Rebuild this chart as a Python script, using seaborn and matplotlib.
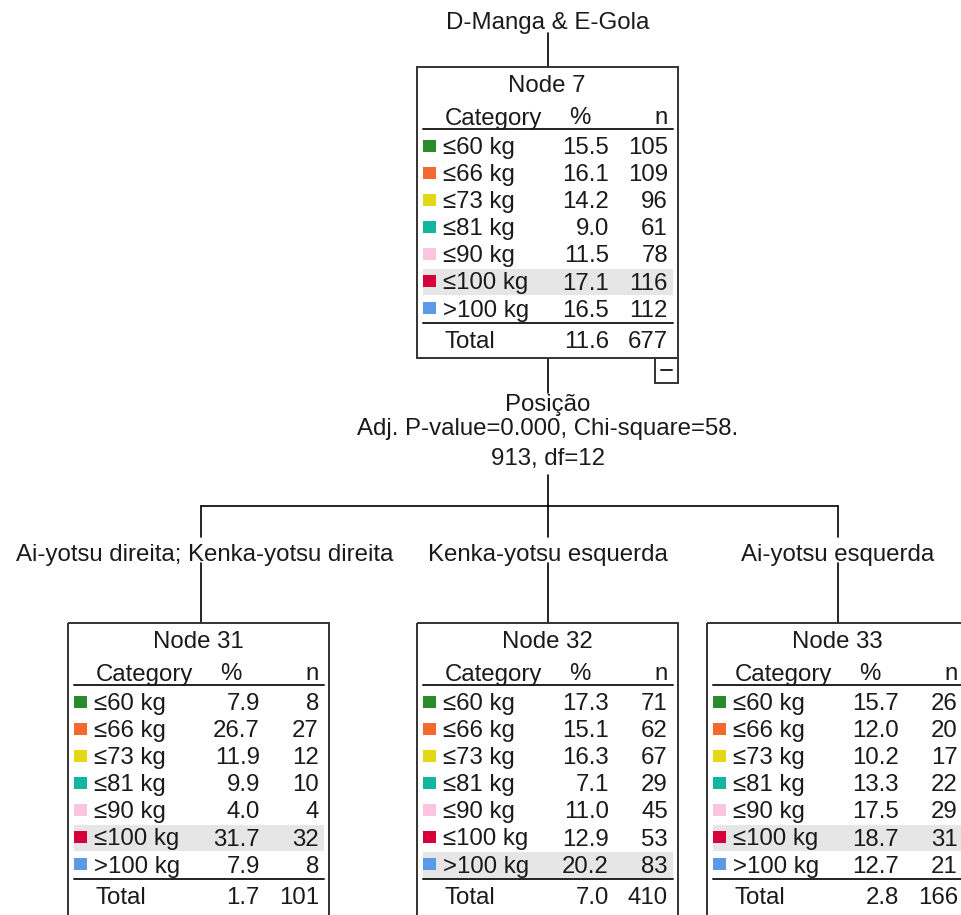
import matplotlib
matplotlib.use('Agg')
import matplotlib.pyplot as plt
import matplotlib.patches as mpatches
import seaborn as sns

# dados da árvore (CHAID)
categorias = ['≤60 kg', '≤66 kg', '≤73 kg', '≤81 kg', '≤90 kg', '≤100 kg', '>100 kg']
cores = ['#2b8a2b', '#f26a2e', '#e3d816', '#12b5a0', '#fcc4e0', '#d6003a', '#5a9ae6']

node7_pct = [15.5, 16.1, 14.2, 9.0, 11.5, 17.1, 16.5]
node7_n = [105, 109, 96, 61, 78, 116, 112]
node31_pct = [7.9, 26.7, 11.9, 9.9, 4.0, 31.7, 7.9]
node31_n = [8, 27, 12, 10, 4, 32, 8]
node32_pct = [17.3, 15.1, 16.3, 7.1, 11.0, 12.9, 20.2]
node32_n = [71, 62, 67, 29, 45, 53, 83]
node33_pct = [15.7, 12.0, 10.2, 13.3, 17.5, 18.7, 12.7]
node33_n = [26, 20, 17, 22, 29, 31, 21]

totais_pct = {7: 11.6, 31: 1.7, 32: 7.0, 33: 2.8}
totais_n = {7: 677, 31: 101, 32: 410, 33: 166}

raiz_label = 'D-Manga & E-Gola'
split_label = ['Posição', 'Adj. P-value=0.000, Chi-square=58.', '913, df=12']
ramos = ['Ai-yotsu direita; Kenka-yotsu direita', 'Kenka-yotsu esquerda', 'Ai-yotsu esquerda']

sns.set_theme(style='white')
plt.rcParams['font.family'] = ['Liberation Sans', 'DejaVu Sans']

FS = 17.3
TXT = '#1a1a1a'
LARG = 261
DY = 8.5  # meia altura das maiúsculas -> baseline


def escreve(ax, x, y, s, ha='left'):
    # y = centro visual das maiúsculas
    ax.text(x, y + DY, s, ha=ha, va='baseline', fontsize=FS, color=TXT, zorder=4)


def desenha_no(ax, esq, topo, nome, pct, n, tot_pct, tot_n, destaque, altura=291):
    ax.add_patch(mpatches.Rectangle((esq, topo), LARG, altura, fill=False,
                                    edgecolor='#333333', lw=1.4, zorder=3))
    escreve(ax, esq + 130, topo + 16, nome, 'center')
    escreve(ax, esq + 28, topo + 49, 'Category')
    escreve(ax, esq + 163, topo + 49, '%', 'center')
    escreve(ax, esq + 251, topo + 49, 'n', 'right')
    ax.plot([esq + 6, esq + 256], [topo + 61.5, topo + 61.5], color='#222222', lw=1.4)
    for i, cat in enumerate(categorias):
        y = topo + 78.5 + i * 27.1
        if i == destaque:
            ax.add_patch(mpatches.Rectangle((esq + 6, y - 12), 250, 26,
                                            facecolor='#e6e6e6', edgecolor='none', zorder=0))
        ax.add_patch(mpatches.Rectangle((esq + 6, y - 6), 13, 12, facecolor=cores[i],
                                        edgecolor='none', zorder=2))
        escreve(ax, esq + 26, y, cat)
        escreve(ax, esq + 192, y, f'{pct[i]:.1f}', 'right')
        escreve(ax, esq + 251, y, f'{n[i]}', 'right')
    ax.plot([esq + 6, esq + 256], [topo + 256, topo + 256], color='#222222', lw=1.4)
    escreve(ax, esq + 28, topo + 272, 'Total')
    escreve(ax, esq + 192, topo + 272, f'{tot_pct:.1f}', 'right')
    escreve(ax, esq + 251, topo + 272, f'{tot_n}', 'right')


fig = plt.figure(figsize=(9.62, 9.15), dpi=100)
ax = fig.add_axes([0, 0, 1, 1])
ax.set_xlim(0, 962)
ax.set_ylim(915, 0)
ax.axis('off')

linha = dict(color='black', lw=1.2, zorder=1)

# raiz
escreve(ax, 548, 21, raiz_label, 'center')
ax.plot([548, 548], [33, 67], **linha)
desenha_no(ax, 417, 67, 'Node 7', node7_pct, node7_n, totais_pct[7], totais_n[7], destaque=5)

# botão "−"
ax.add_patch(mpatches.Rectangle((655, 358), 23, 25, fill=False, edgecolor='#333333', lw=1.4))
ax.plot([661, 672], [370, 370], color='#222222', lw=1.4)

# divisão
ax.plot([548, 548], [358, 393], **linha)
for k, txt in enumerate(split_label):
    escreve(ax, 548, [403, 427, 457][k], txt, 'center')
ax.plot([548, 548], [475, 506], **linha)

xs_ramos = [201, 548, 838]
ax.plot([xs_ramos[0], xs_ramos[-1]], [506, 506], **linha)
for x, rot in zip(xs_ramos, ramos):
    ax.plot([x, x], [506, 537], **linha)
    escreve(ax, x + 4 if x == 201 else x, 552, rot, 'center')
    ax.plot([x, x], [563, 623], **linha)

desenha_no(ax, 68, 623, 'Node 31', node31_pct, node31_n, totais_pct[31], totais_n[31], destaque=5, altura=320)
desenha_no(ax, 417, 623, 'Node 32', node32_pct, node32_n, totais_pct[32], totais_n[32], destaque=6, altura=320)
desenha_no(ax, 707, 623, 'Node 33', node33_pct, node33_n, totais_pct[33], totais_n[33], destaque=5, altura=320)

fig.savefig('out.png', dpi=100, facecolor='white')
